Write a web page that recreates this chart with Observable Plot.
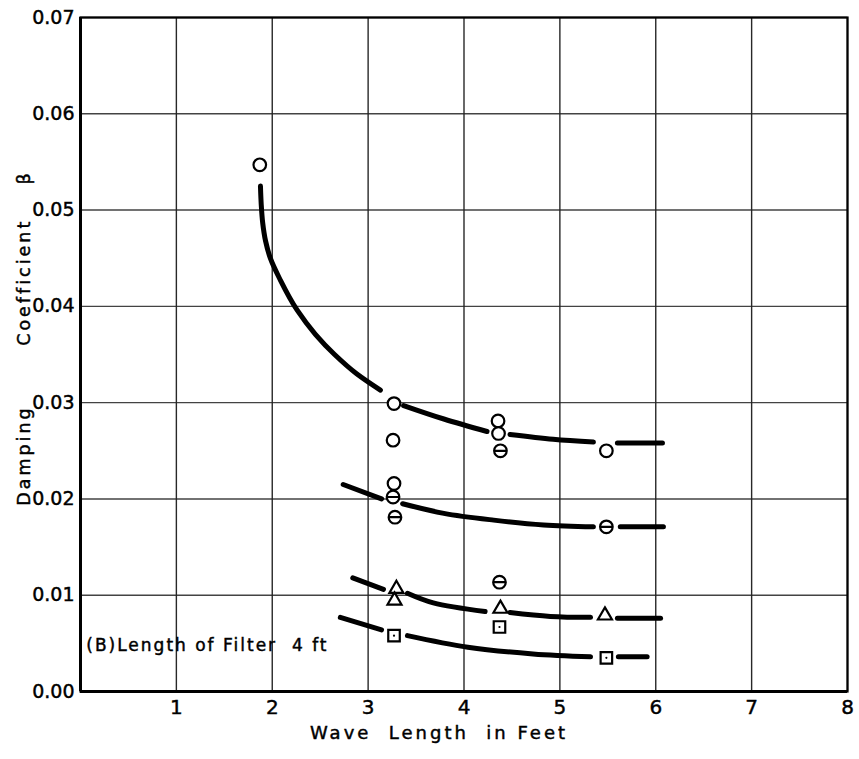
<!DOCTYPE html>
<html>
<head>
<meta charset="utf-8">
<script src="https://cdn.jsdelivr.net/npm/d3@7"></script>
<script src="https://cdn.jsdelivr.net/npm/@observablehq/plot@0.6"></script>
<style>
  html, body { margin: 0; padding: 0; background: #fff; }
</style>
</head>
<body>
<div id="chart"></div>
<script>
// Axis ticks
const xTicks = [1, 2, 3, 4, 5, 6, 7, 8];
const yTicks = [0, 0.01, 0.02, 0.03, 0.04, 0.05, 0.06, 0.07];

// Observations: [wave length (ft), damping coefficient]
const circlePts = [
  [1.87, 0.0547], [3.27, 0.0299], [3.26, 0.0261], [3.27, 0.0216],
  [4.355, 0.0281], [4.36, 0.0268], [5.485, 0.0250]
];
const thetaPts = [
  [3.26, 0.0202], [3.28, 0.0181], [4.38, 0.0250], [5.485, 0.0171], [4.37, 0.01135]
];
const trianglePts = [
  [3.295, 0.01066], [3.275, 0.00945], [4.38, 0.0086], [5.47, 0.0079]
];
const squarePts = [
  [3.27, 0.0058], [4.37, 0.0067], [5.485, 0.0035]
];

// Faired curves, broken around the plotted symbols: [segment, x, y]
const curveTopHead = [
  ["a1", 1.877, 0.0525], ["a1", 1.885, 0.0506], ["a1", 1.90, 0.0487], ["a1", 1.93, 0.0468],
  ["a1", 1.98, 0.0450], ["a1", 2.086, 0.0427], ["a1", 2.26, 0.0396], ["a1", 2.45, 0.0371],
  ["a1", 2.65, 0.0350], ["a1", 2.88, 0.0330], ["a1", 3.128, 0.0313]
];
const curveTopTail = [
  ["a2", 3.37, 0.0297], ["a2", 3.79, 0.0283], ["a2", 4.24, 0.0270],
  ["a3", 4.48, 0.0267], ["a3", 4.93, 0.0262], ["a3", 5.35, 0.0259],
  ["a4", 5.60, 0.0258], ["a4", 6.07, 0.0258]
];
const curveSecond = [
  ["b1", 2.74, 0.0215], ["b1", 3.14, 0.0200],
  ["b2", 3.36, 0.0195], ["b2", 3.79, 0.0185], ["b2", 4.31, 0.0178], ["b2", 4.83, 0.0173], ["b2", 5.35, 0.0171],
  ["b3", 5.63, 0.0171], ["b3", 6.08, 0.0171]
];
const curveTriangle = [
  ["c1", 2.84, 0.0118], ["c1", 3.16, 0.0106],
  ["c2", 3.41, 0.0102], ["c2", 3.68, 0.0092], ["c2", 4.22, 0.0083],
  ["c3", 4.48, 0.0082], ["c3", 4.90, 0.0078], ["c3", 5.32, 0.0077],
  ["c4", 5.60, 0.0076], ["c4", 6.05, 0.0076]
];
const curveSquare = [
  ["d1", 2.71, 0.0077], ["d1", 3.14, 0.0064],
  ["d2", 3.41, 0.0058], ["d2", 4.04, 0.0046], ["d2", 4.72, 0.0039], ["d2", 5.32, 0.0036],
  ["d3", 5.61, 0.0036], ["d3", 5.91, 0.0036]
];

const noteText = "(B)Length of Filter  4 ft";
const xTitle = "Wave  Length  in Feet";
const yTitleParts = [["Damping", 0.0245], ["Coefficient", 0.0425], ["β", 0.0534]];

// Circle with a horizontal bar through it
const theta = {
  draw(ctx, size) {
    const r = Math.sqrt(size / Math.PI);
    ctx.moveTo(r, 0);
    ctx.arc(0, 0, r, 0, 2 * Math.PI);
    ctx.moveTo(-r, 0);
    ctx.lineTo(r, 0);
  }
};

const toPts = (arr) => arr.map(([x, y]) => ({x, y}));
const toSeg = (arr) => arr.map(([s, x, y]) => ({s, x, y}));
const flatCurves = [curveTopTail, curveSecond, curveTriangle, curveSquare].flatMap(toSeg);
const lineStyle = {x: "x", y: "y", z: "s", stroke: "#000", strokeWidth: 5, strokeLinecap: "round", strokeLinejoin: "round"};

const chart = Plot.plot({
  width: 859,
  height: 759,
  marginLeft: 80,
  marginRight: 12,
  marginTop: 17,
  marginBottom: 68,
  style: {fontFamily: "DejaVu Sans, sans-serif", color: "#000", background: "#fff"},
  x: {domain: [0, 8]},
  y: {domain: [0, 0.07]},
  marks: [
    Plot.gridX(xTicks, {stroke: "#111", strokeOpacity: 0.9, strokeWidth: 1.4}),
    Plot.gridY(yTicks, {stroke: "#222", strokeOpacity: 0.85, strokeWidth: 1.4}),
    Plot.frame({stroke: "#000", strokeWidth: 2.2}),
    Plot.ruleX([0], {stroke: "#000", strokeWidth: 3}),
    Plot.ruleY([0], {stroke: "#000", strokeWidth: 3}),
    Plot.axisX(xTicks, {tickSize: 0, tickPadding: 8, fontSize: 20, label: null, tickFormat: d => String(d)}),
    Plot.axisY(yTicks, {tickSize: 0, tickPadding: 6, fontSize: 19, label: null, tickFormat: d3.format(".2f")}),
    // steep upper branch follows y, the flatter branches follow x
    Plot.line(toSeg(curveTopHead), {...lineStyle, curve: "monotone-y"}),
    Plot.line(flatCurves, {...lineStyle, curve: "catmull-rom"}),
    Plot.dot(toPts(circlePts), {x: "x", y: "y", r: 6.3, stroke: "#000", strokeWidth: 2.2, fill: "#fff"}),
    Plot.dot(toPts(thetaPts), {x: "x", y: "y", r: 6.3, symbol: theta, stroke: "#000", strokeWidth: 2.2, fill: "#fff"}),
    Plot.dot(toPts(trianglePts), {x: "x", y: "y", r: 5.2, symbol: "triangle", stroke: "#000", strokeWidth: 2.2, fill: "#fff"}),
    Plot.dot(toPts(squarePts), {x: "x", y: "y", r: 6.5, symbol: "square", stroke: "#000", strokeWidth: 2.2, fill: "#fff"}),
    Plot.dot(toPts(squarePts), {x: "x", y: "y", r: 1.1, fill: "#000"}),
    Plot.text([noteText], {x: 0.06, y: 0.0048, text: d => d, textAnchor: "start", fontSize: 17, fill: "#000"}),
    Plot.text([xTitle], {frameAnchor: "bottom", dx: -25, dy: 47, text: d => d, fontSize: 18, fill: "#000"}),
    Plot.text(yTitleParts, {
      frameAnchor: "left", textAnchor: "middle", dx: -56, y: d => d[1], text: d => d[0], rotate: -90,
      fontSize: 17.5, fill: "#000"
    })
  ]
});

// Lettering: spaced titles and slightly heavier strokes, like hand-lettered type
const spacing = new Map([[noteText, "2px"], [xTitle, "3px"], ...yTitleParts.map(d => [d[0], "3px"])]);
d3.select(chart).selectAll("text").each(function () {
  const t = this.textContent;
  if (spacing.has(t)) this.style.letterSpacing = spacing.get(t);
  this.style.stroke = "#000";
  this.style.strokeWidth = "0.45px";
});

document.getElementById("chart").appendChild(chart);
</script>
</body>
</html>
